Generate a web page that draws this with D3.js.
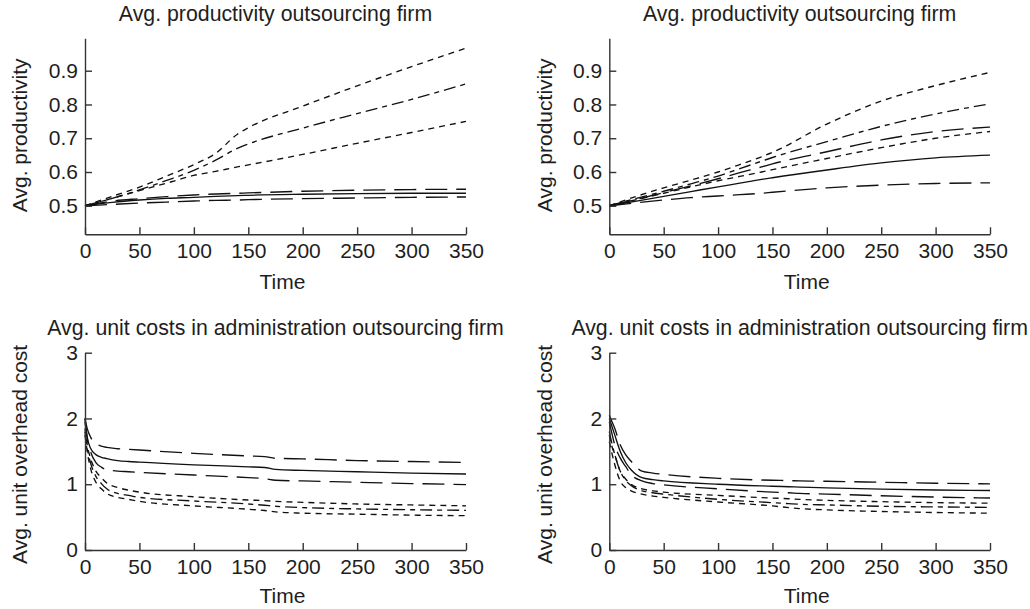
<!DOCTYPE html>
<html><head><meta charset="utf-8">
<script src="https://cdn.jsdelivr.net/npm/d3@7"></script>
<style>
body{margin:0;background:#fff;}
svg text{font-family:"Liberation Sans",Arial,Helvetica,sans-serif;fill:#1e1e1e;}
</style></head><body>
<svg id="c" width="1030" height="609"></svg>
<script>
// ---- data ----
const timeTop = [0,25,50,75,100,120,140,150,200,250,300,350];
const timeBottom = [0,2,5,10,15,20,30,40,50,100,150,165,175,200,250,300,350];
const xTicks = [0,50,100,150,200,250,300,350];
const yTicksTop = [0.5,0.6,0.7,0.8,0.9];
const yTicksBottom = [0,1,2,3];
const titleTop = "Avg. productivity outsourcing firm";
const titleBottom = "Avg. unit costs in administration outsourcing firm";
const yLabelTop = "Avg. productivity";
const yLabelBottom = "Avg. unit overhead cost";
const xLabel = "Time";

// line style of each of the six series in each panel
const stylesTL = ["short","dashdot","short","long","solid","long"];
const stylesTR = ["short","dashdot","long","short","solid","long"];
const stylesBottom = ["long","solid","long","short","dashdot","short"];

// top-left: productivity
const prodL1 = [0.5,0.528,0.555,0.588,0.622,0.655,0.712,0.731,0.795,0.855,0.912,0.967];
const prodL2 = [0.5,0.522,0.547,0.575,0.605,0.635,0.670,0.683,0.730,0.773,0.815,0.861];
const prodL3 = [0.5,0.522,0.545,0.567,0.590,0.602,0.615,0.621,0.652,0.685,0.717,0.750];
const prodL4 = [0.5,0.514,0.521,0.527,0.532,0.535,0.537,0.538,0.543,0.546,0.548,0.549];
const prodL5 = [0.5,0.510,0.517,0.522,0.525,0.528,0.530,0.531,0.534,0.536,0.537,0.537];
const prodL6 = [0.5,0.504,0.508,0.511,0.514,0.516,0.517,0.518,0.521,0.523,0.525,0.526];
// top-right: productivity
const prodR1 = [0.5,0.528,0.553,0.576,0.600,0.622,0.645,0.658,0.742,0.810,0.856,0.895];
const prodR2 = [0.5,0.522,0.543,0.565,0.588,0.610,0.632,0.643,0.690,0.735,0.772,0.802];
const prodR3 = [0.5,0.519,0.539,0.559,0.580,0.598,0.615,0.624,0.660,0.695,0.720,0.733];
const prodR4 = [0.5,0.518,0.537,0.556,0.574,0.587,0.600,0.607,0.640,0.672,0.700,0.720];
const prodR5 = [0.5,0.514,0.528,0.542,0.556,0.567,0.578,0.583,0.606,0.627,0.642,0.650];
const prodR6 = [0.5,0.509,0.517,0.524,0.529,0.533,0.537,0.540,0.553,0.561,0.566,0.568];
// bottom-left: unit overhead cost
const costL1 = [2.0,1.85,1.72,1.62,1.58,1.56,1.54,1.53,1.52,1.47,1.43,1.42,1.395,1.385,1.36,1.345,1.33];
const costL2 = [2.0,1.72,1.55,1.45,1.41,1.39,1.36,1.345,1.335,1.295,1.265,1.255,1.225,1.21,1.19,1.17,1.155];
const costL3 = [1.95,1.7,1.5,1.33,1.26,1.22,1.2,1.19,1.18,1.14,1.1,1.085,1.06,1.05,1.03,1.01,0.995];
const costL4 = [1.85,1.6,1.4,1.2,1.1,1.02,0.95,0.91,0.88,0.81,0.76,0.75,0.74,0.725,0.70,0.685,0.672];
const costL5 = [1.8,1.55,1.33,1.12,1.01,0.93,0.86,0.83,0.80,0.745,0.70,0.68,0.665,0.645,0.625,0.612,0.603];
const costL6 = [1.75,1.5,1.25,1.03,0.93,0.86,0.80,0.77,0.74,0.67,0.62,0.60,0.58,0.56,0.545,0.53,0.522];
// bottom-right: unit overhead cost
const costR1 = [2.05,1.97,1.85,1.6,1.45,1.35,1.2,1.17,1.15,1.09,1.06,1.055,1.05,1.045,1.03,1.015,1.005];
const costR2 = [2.0,1.9,1.75,1.5,1.33,1.22,1.1,1.07,1.05,1.0,0.97,0.962,0.957,0.945,0.925,0.912,0.905];
const costR3 = [1.95,1.8,1.6,1.4,1.27,1.15,1.05,1.01,0.99,0.93,0.88,0.87,0.86,0.85,0.825,0.805,0.79];
const costR4 = [1.75,1.6,1.45,1.2,1.08,1.0,0.93,0.90,0.88,0.83,0.79,0.78,0.77,0.755,0.735,0.72,0.712];
const costR5 = [1.8,1.65,1.45,1.2,1.06,0.98,0.90,0.87,0.85,0.77,0.72,0.705,0.695,0.685,0.665,0.655,0.648];
const costR6 = [1.65,1.5,1.3,1.05,0.95,0.90,0.85,0.82,0.80,0.73,0.67,0.645,0.63,0.61,0.585,0.57,0.56];

// ---- layout / styles ----
const dashes = {solid:null, long:"22,9", short:"6,5", dashdot:"12,5,5,5"};
const panels = [
  {x0:85, x1:466, yDom:[0.4155,0.996], yRange:[234.3,38.3], yTicks:yTicksTop, fmt:d3.format(".1f"),
   time:timeTop, series:[prodL1,prodL2,prodL3,prodL4,prodL5,prodL6], styles:stylesTL,
   title:titleTop, titleY:21, ylab:yLabelTop, ylabX:26.7, xlabY:288.7},
  {x0:609.3, x1:990, yDom:[0.4155,0.996], yRange:[234.3,38.3], yTicks:yTicksTop, fmt:d3.format(".1f"),
   time:timeTop, series:[prodR1,prodR2,prodR3,prodR4,prodR5,prodR6], styles:stylesTR,
   title:titleTop, titleY:21, ylab:yLabelTop, ylabX:551.7, xlabY:288.7},
  {x0:85, x1:466, yDom:[0,3], yRange:[550,352.7], yTicks:yTicksBottom, fmt:d3.format("d"),
   time:timeBottom, series:[costL1,costL2,costL3,costL4,costL5,costL6], styles:stylesBottom,
   title:titleBottom, titleY:335, ylab:yLabelBottom, ylabX:26.7, xlabY:603},
  {x0:609.3, x1:990, yDom:[0,3], yRange:[550,352.7], yTicks:yTicksBottom, fmt:d3.format("d"),
   time:timeBottom, series:[costR1,costR2,costR3,costR4,costR5,costR6], styles:stylesBottom,
   title:titleBottom, titleY:335, ylab:yLabelBottom, ylabX:551.7, xlabY:603}
];

const svg = d3.select("#c");
panels.forEach(p => {
  const x = d3.scaleLinear().domain([0,350]).range([p.x0,p.x1]);
  const y = d3.scaleLinear().domain(p.yDom).range(p.yRange);
  const g = svg.append("g");

  const line = d3.line().x(d=>x(d[0])).y(d=>y(d[1])).curve(d3.curveMonotoneX);
  p.series.forEach((vals,i) => {
    g.append("path")
      .datum(p.time.map((t,j)=>[t,vals[j]]))
      .attr("d", line)
      .attr("fill","none")
      .attr("stroke","#111")
      .attr("stroke-width",1.35)
      .attr("stroke-dasharray", dashes[p.styles[i]]);
  });

  const xa = g.append("g").attr("transform",`translate(0,${p.yRange[0]})`)
    .call(d3.axisBottom(x).tickValues(xTicks).tickSize(-7).tickSizeOuter(0).tickPadding(9));
  const ya = g.append("g").attr("transform",`translate(${p.x0},0)`)
    .call(d3.axisLeft(y).tickValues(p.yTicks).tickFormat(p.fmt).tickSize(-7).tickSizeOuter(0).tickPadding(7));
  [xa,ya].forEach(a=>{
    a.selectAll("path,line").attr("stroke","#333").attr("stroke-width",1.4);
    a.selectAll("text").attr("font-size",21).attr("fill","#1e1e1e")
      .attr("font-family",'"Liberation Sans",Arial,sans-serif');
  });

  const cx = (p.x0+p.x1)/2;
  g.append("text").attr("x",cx).attr("y",p.titleY).attr("text-anchor","middle")
    .attr("font-size",21.3).text(p.title);
  g.append("text").attr("x",cx+7).attr("y",p.xlabY).attr("text-anchor","middle")
    .attr("font-size",21).text(xLabel);
  const ym = (p.yRange[0]+p.yRange[1])/2 + (p.yDom[0]===0 ? 3 : -1);
  g.append("text").attr("transform",`translate(${p.ylabX},${ym}) rotate(-90)`)
    .attr("text-anchor","middle").attr("font-size",21).text(p.ylab);
});
</script>
</body></html>
